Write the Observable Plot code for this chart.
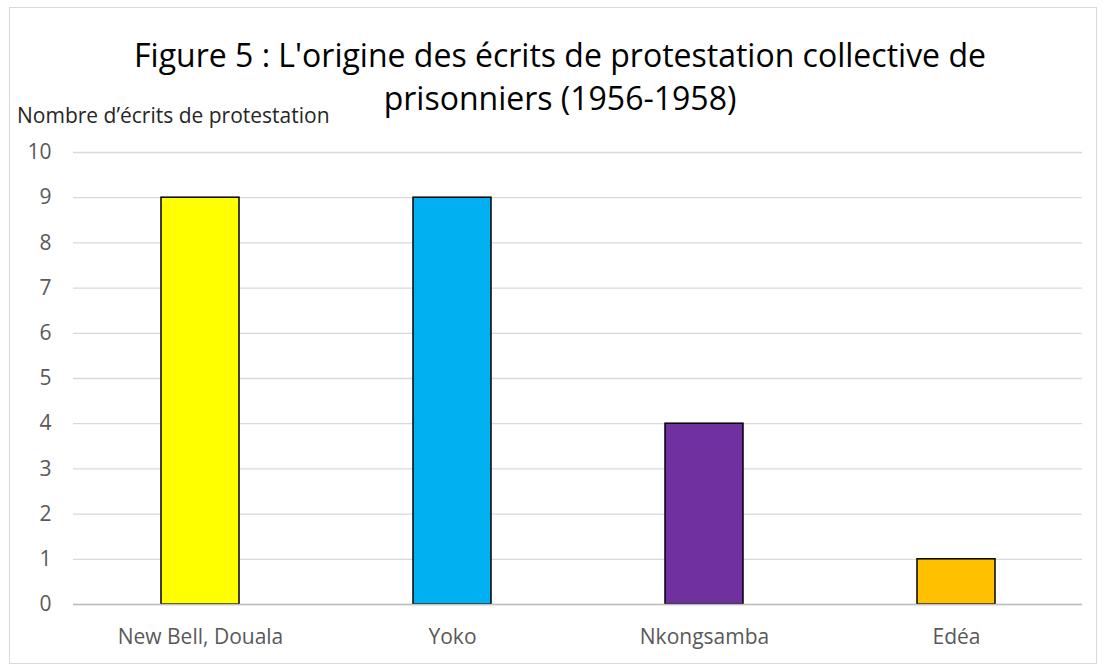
<!DOCTYPE html>
<html><head><meta charset="utf-8">
<script src="https://cdn.jsdelivr.net/npm/d3@7"></script>
<script src="https://cdn.jsdelivr.net/npm/@observablehq/plot@0.6"></script>
<style>
body{margin:0;background:#fff;font-family:"Open Sans",sans-serif;}
#wrap{position:relative;width:1105px;height:668px;}
#frame{position:absolute;left:9px;top:7px;width:1086px;height:655px;border:1px solid #d9d9d9;pointer-events:none;}
#title{position:absolute;left:0;width:1120px;top:33px;text-align:center;font-size:32px;line-height:43px;color:#000;}
#ylab{position:absolute;left:17px;top:100px;font-size:21px;line-height:30px;color:#262626;}
#chart svg text{font-size:21px;font-family:"Open Sans",sans-serif;fill:#595959;}
</style></head><body>
<div id="wrap">
<div id="chart"></div>
<div id="frame"></div>
<div id="title">Figure 5 : L'origine des écrits de protestation collective de<br>prisonniers (1956-1958)</div>
<div id="ylab">Nombre d’écrits de protestation</div>
</div>
<script>
const categories = ["New Bell, Douala", "Yoko", "Nkongsamba", "Edéa"];
const values = [9, 9, 4, 1];
const colors = ["#FFFF00", "#00B0F0", "#7030A0", "#FFC000"];
const yTicks = [0,1,2,3,4,5,6,7,8,9,10];

const data = categories.map((c,i)=>({cat:c, v:values[i], col:colors[i]}));

const chart = Plot.plot({
  width: 1105, height: 668,
  marginLeft: 73, marginRight: 23, marginTop: 152, marginBottom: 64,
  style: {fontFamily: "'Open Sans', sans-serif", fontSize: "21px", color: "#595959", background: "transparent"},
  x: {domain: categories, padding: 0, label: null, tickSize: 0, tickPadding: 25},
  y: {domain: [0,10], ticks: yTicks, label: null, tickSize: 0, tickPadding: 22},
  marks: [
    Plot.gridY(yTicks, {stroke: "#d9d9d9", strokeOpacity: 1, strokeWidth: 1.3}),
    Plot.barY(data, {x: "cat", y: "v", fill: "col", stroke: "#000", strokeWidth: 1.5, insetLeft: 87, insetRight: 87}),
    Plot.ruleY([0], {stroke: "#bfbfbf", strokeWidth: 1.3})
  ]
});
document.getElementById("chart").appendChild(chart);
</script>
</body></html>
